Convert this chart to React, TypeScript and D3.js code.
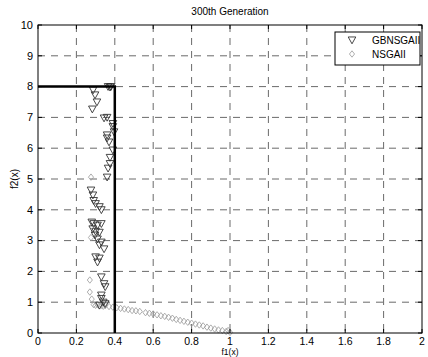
import * as d3 from 'd3';

const VW = 428;
const VH = 357;
const MARGIN = { top: 25, right: 6, bottom: 24, left: 38 };
const W = VW - MARGIN.left - MARGIN.right;
const H = VH - MARGIN.top - MARGIN.bottom;

const X_TICKS = [0, 0.2, 0.4, 0.6, 0.8, 1, 1.2, 1.4, 1.6, 1.8, 2];
const Y_TICKS = [0, 1, 2, 3, 4, 5, 6, 7, 8, 9, 10];

// boundary drawn as thick black line
const BOUND_X = [0, 0.4, 0.4];
const BOUND_Y = [8, 8, 0];

// GBNSGAII (down triangles)
const GB_X = [0.365, 0.375, 0.38, 0.287, 0.297, 0.307, 0.283, 0.344, 0.36, 0.39, 0.39, 0.396, 0.36, 0.36, 0.37, 0.39, 0.375,
  0.375, 0.365, 0.36, 0.276, 0.286, 0.29, 0.3, 0.32, 0.33, 0.28, 0.29, 0.31, 0.33, 0.285, 0.3, 0.32, 0.297, 0.31, 0.33,
  0.32, 0.344, 0.3, 0.32, 0.31, 0.33, 0.344, 0.35, 0.33, 0.33, 0.34, 0.32, 0.35];
const GB_Y = [8.0, 7.98, 8.0, 7.89, 7.73, 7.5, 7.27, 6.98, 7.0, 6.8, 6.7, 6.53, 6.43, 6.33, 6.2, 5.94, 5.7,
  5.5, 5.35, 5.06, 4.64, 4.48, 4.3, 4.2, 4.1, 4.0, 3.6, 3.55, 3.5, 3.55, 3.38, 3.3, 3.27, 3.18, 3.05, 2.95,
  2.86, 2.73, 2.47, 2.43, 2.3, 1.82, 1.6, 1.5, 1.23, 1.12, 1.0, 0.9, 0.95];

// NSGAII (small diamonds)
const NS_X = [0.276, 0.276, 0.27, 0.27, 0.28, 0.29, 0.30, 0.31, 0.32, 0.33, 0.34, 0.35, 0.37, 0.39, 0.41, 0.43, 0.45,
  0.47, 0.49, 0.51, 0.53, 0.56, 0.58, 0.60, 0.62, 0.64, 0.66, 0.68, 0.70, 0.72, 0.74, 0.76, 0.78, 0.80, 0.82, 0.84,
  0.86, 0.88, 0.90, 0.92, 0.94, 0.96, 0.98, 1.0, 0.99];
const NS_Y = [5.06, 3.1, 1.72, 1.33, 1.1, 0.92, 0.9, 0.93, 0.88, 0.9, 0.87, 0.89, 0.86, 0.84, 0.82, 0.8, 0.78,
  0.76, 0.73, 0.72, 0.7, 0.66, 0.64, 0.62, 0.59, 0.56, 0.54, 0.51, 0.48, 0.44, 0.41, 0.38, 0.35, 0.32, 0.29, 0.26,
  0.23, 0.19, 0.16, 0.13, 0.1, 0.08, 0.05, 0.02, 0.08];

const x = d3.scaleLinear().domain([0, 2]).range([0, W]);
const y = d3.scaleLinear().domain([0, 10]).range([H, 0]);

const FONT = '"Liberation Sans", Arial, sans-serif';
const tri = (cx: number, cy: number, r: number) =>
  `M${cx - r},${cy - r * 0.8}L${cx + r},${cy - r * 0.8}L${cx},${cy + r}Z`;
const dia = (cx: number, cy: number, r: number) =>
  `M${cx},${cy - r}L${cx + r * 0.8},${cy}L${cx},${cy + r}L${cx - r * 0.8},${cy}Z`;

const boundLine = d3.line<number>().x(i => x(BOUND_X[i])).y(i => y(BOUND_Y[i]));

export default function App() {
  return (
    <svg width={VW} height={VH} viewBox={`0 0 ${VW} ${VH}`}
      style={{ position: 'absolute', left: 0, top: 0, background: '#fff' }}>
      <g transform={`translate(${MARGIN.left},${MARGIN.top})`}>
        <rect x={0} y={0} width={W} height={H} fill="#fff" />
        {X_TICKS.slice(1, -1).map(t => (
          <line key={`gx${t}`} x1={x(t)} x2={x(t)} y1={0} y2={H}
            stroke="#444" strokeWidth={0.8} strokeDasharray="7 6" />
        ))}
        {Y_TICKS.slice(1, -1).map(t => (
          <line key={`gy${t}`} x1={0} x2={W} y1={y(t)} y2={y(t)}
            stroke="#444" strokeWidth={0.8} strokeDasharray="7 6" />
        ))}

        {NS_X.map((v, i) => (
          <path key={`ns${i}`} d={dia(x(v), y(NS_Y[i]), 3.2)} fill="none" stroke="#999" strokeWidth={0.8} />
        ))}
        {GB_X.map((v, i) => (
          <path key={`gb${i}`} d={tri(x(v), y(GB_Y[i]), 3.8)} fill="none" stroke="#333" strokeWidth={0.9} />
        ))}

        <path d={boundLine([0, 1, 2]) ?? ''} fill="none" stroke="#000" strokeWidth={2.5} />

        <rect x={0} y={0} width={W} height={H} fill="none" stroke="#000" strokeWidth={1} />

        {X_TICKS.map(t => (
          <g key={`xt${t}`}>
            <line x1={x(t)} x2={x(t)} y1={H} y2={H - 4} stroke="#000" />
            <line x1={x(t)} x2={x(t)} y1={0} y2={4} stroke="#000" />
            <text x={x(t)} y={H + 12} textAnchor="middle" fontSize={10.5} fontFamily={FONT} fill="#000">{t}</text>
          </g>
        ))}
        {Y_TICKS.map(t => (
          <g key={`yt${t}`}>
            <line x1={0} x2={4} y1={y(t)} y2={y(t)} stroke="#000" />
            <line x1={W} x2={W - 4} y1={y(t)} y2={y(t)} stroke="#000" />
            <text x={-5} y={y(t)} dy="0.35em" textAnchor="end" fontSize={11} fontFamily={FONT} fill="#000">{t}</text>
          </g>
        ))}

        <text x={W / 2} y={-10} textAnchor="middle" fontSize={10} fontFamily={FONT} fill="#000">300th Generation</text>
        <text x={W / 2} y={H + 22} textAnchor="middle" fontSize={8.5} fontFamily={FONT} fill="#000">f1(x)</text>
        <text transform={`translate(${-20},${H / 2}) rotate(-90)`} textAnchor="middle" fontSize={10}
          fontFamily={FONT} fill="#000">f2(x)</text>

        <g transform={`translate(${W - 87},${7})`}>
          <rect x={0} y={0} width={85} height={33} fill="#fff" stroke="#000" strokeWidth={1} />
          <path d={tri(17, 8, 3.8)} fill="none" stroke="#333" strokeWidth={0.9} />
          <text x={37} y={12} fontSize={10} fontFamily={FONT} fill="#000">GBNSGAII</text>
          <path d={dia(17, 22, 3.2)} fill="none" stroke="#999" strokeWidth={0.8} />
          <text x={37} y={26} fontSize={10} fontFamily={FONT} fill="#000">NSGAII</text>
        </g>
      </g>
    </svg>
  );
}
